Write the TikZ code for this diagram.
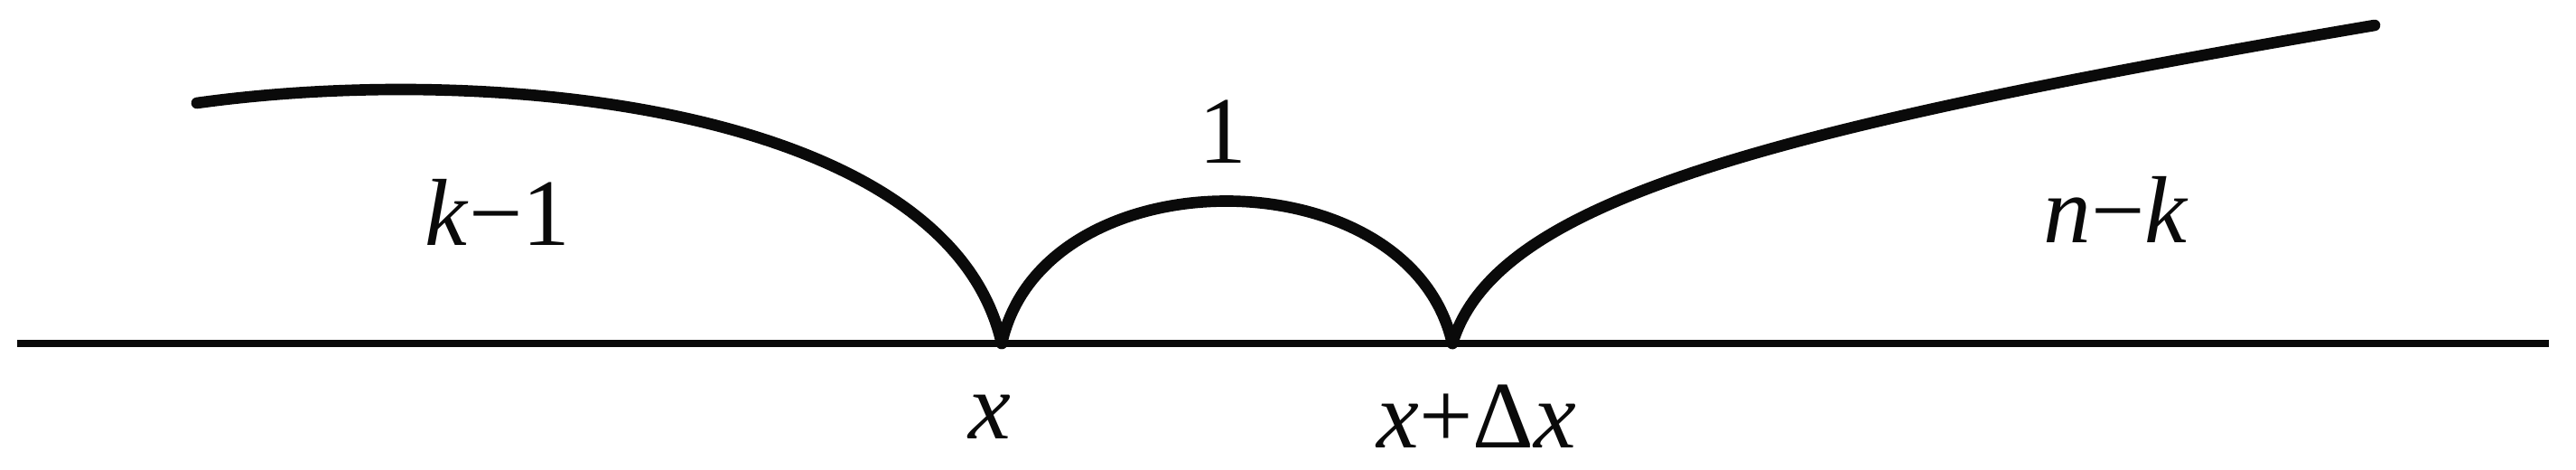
\documentclass[tikz,border=0pt]{standalone}
\usepackage{fontspec}
\setmainfont{Liberation Serif}
\usepackage{tikz}
\usetikzlibrary{positioning, calc}
\definecolor{mydark}{RGB}{10,10,10}
\tikzset{
  axisline/.style={draw=mydark, line width=2.2pt},
  curveline/.style={draw=mydark, line width=3.6pt, line cap=round},
  lbl/.style={font=\fontsize{30}{36}\selectfont, inner sep=0pt, text=mydark}
}

\begin{document}
\begin{tikzpicture}
  \useasboundingbox (0,0) rectangle (28.52,5.2);

  % Axis and the two marked points
  \coordinate (axl) at (0.19, 1.40);
  \coordinate (axr) at (28.22, 1.40);
  \coordinate (ptx) at (11.09, 1.40);
  \coordinate (ptdx) at (16.08, 1.40);
  \draw[axisline] (axl) -- (axr);

  % Free ends of the outer curves
  \coordinate (lend) at (2.18, 4.06);
  \coordinate (rend) at (26.29, 4.92);

  % Curves
  \draw[curveline] (lend) .. controls (5.5, 4.52) and (10.5, 4.0) .. (ptx);
  \draw[curveline] (ptx) .. controls (11.55, 3.5) and (15.6, 3.5) .. (ptdx);
  \draw[curveline] (ptdx) .. controls (16.55, 2.95) and (19.4, 3.75) .. (rend);

  % Labels
  \node[lbl] (lblleft) at (5.51, 2.85) {\textit{k}−1};
  \node[lbl] (lblmid) at (13.54, 3.74) {1};
  \node[lbl] (lblright) at (23.43, 2.88) {\textit{n}−\textit{k}};
  \node[lbl] (lblx) at (10.96, 0.59) {\textit{x}};
  \node[lbl] (lbldx) at (16.35, 0.59) {\textit{x}+Δ\textit{x}};
\end{tikzpicture}
\end{document}
